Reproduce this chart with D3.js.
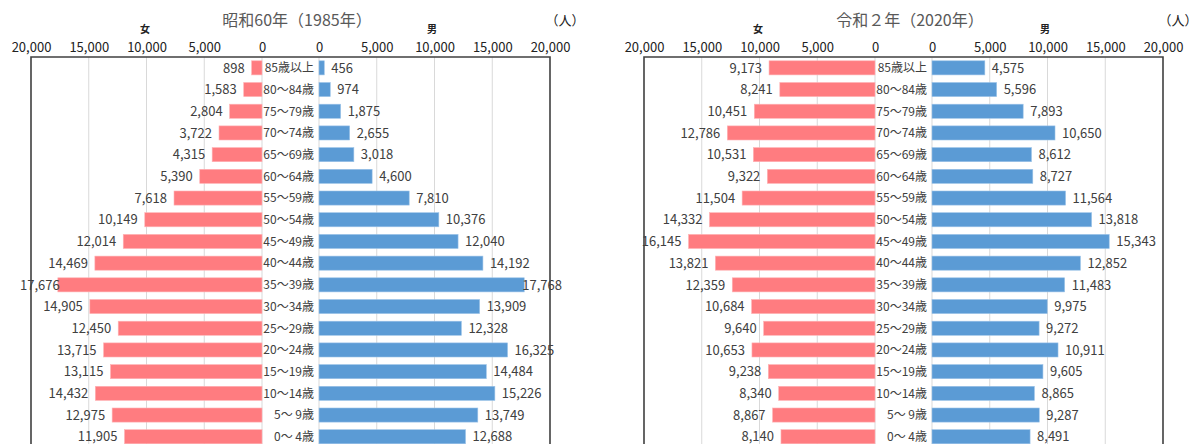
<!DOCTYPE html>
<html>
<head>
<meta charset="utf-8">
<script src="https://cdn.jsdelivr.net/npm/d3@7.9.0/dist/d3.min.js"></script>
<style>
  html, body { margin: 0; padding: 0; background: #fff; }
  svg { display: block; font-family: "Noto Sans CJK JP", "Noto Sans", sans-serif; }
</style>
</head>
<body>
<svg id="chart" width="1200" height="444"></svg>
<script>
const ages = ['85歳以上', '80～84歳', '75～79歳', '70～74歳', '65～69歳', '60～64歳', '55～59歳',
    '50～54歳', '45～49歳', '40～44歳', '35～39歳', '30～34歳', '25～29歳', '20～24歳',
    '15～19歳', '10～14歳', '5～ 9歳', '0～ 4歳'];
const ticks = [0, 5000, 10000, 15000, 20000];

const female1985 = [898, 1583, 2804, 3722, 4315, 5390, 7618, 10149, 12014, 14469, 17676, 14905,
    12450, 13715, 13115, 14432, 12975, 11905];
const male1985 = [456, 974, 1875, 2655, 3018, 4600, 7810, 10376, 12040, 14192, 17768, 13909,
    12328, 16325, 14484, 15226, 13749, 12688];
const female2020 = [9173, 8241, 10451, 12786, 10531, 9322, 11504, 14332, 16145, 13821, 12359,
    10684, 9640, 10653, 9238, 8340, 8867, 8140];
const male2020 = [4575, 5596, 7893, 10650, 8612, 8727, 11564, 13818, 15343, 12852, 11483, 9975,
    9272, 10911, 9605, 8865, 9287, 8491];

const svg = d3.select('#chart');
const fmt = d3.format(',');
const textColor = '#404040';

const y = d3.scaleBand()
    .domain(ages)
    .range([57, 57 + ages.length * 21.7])
    .paddingInner(0.35)
    .paddingOuter(0.175);

function drawPanel(dx, title, female, male) {
    const g = svg.append('g').attr('transform', `translate(${dx},0)`);
    const xf = d3.scaleLinear().domain([0, 20000]).range([262, 31]);
    const xm = d3.scaleLinear().domain([0, 20000]).range([319, 550]);
    const areaLeft = 20;
    const areaRight = 562;

    // grid
    [xf, xm].forEach((sc) => {
        g.selectAll(null)
            .data(ticks.slice(0, 4))
            .join('line')
            .attr('x1', (d) => sc(d))
            .attr('x2', (d) => sc(d))
            .attr('y1', 57)
            .attr('y2', 450)
            .attr('stroke', '#d9d9d9')
            .attr('stroke-width', 1);
    });

    // bars
    g.selectAll('.fbar')
        .data(female)
        .join('rect')
        .attr('class', 'fbar')
        .attr('x', (d) => xf(d))
        .attr('y', (d, i) => y(ages[i]))
        .attr('width', (d) => xf(0) - xf(d))
        .attr('height', y.bandwidth())
        .attr('fill', '#ff7c80')
        .attr('stroke', '#ffb3b5')
        .attr('stroke-width', 0.6);

    g.selectAll('.mbar')
        .data(male)
        .join('rect')
        .attr('class', 'mbar')
        .attr('x', xm(0))
        .attr('y', (d, i) => y(ages[i]))
        .attr('width', (d) => xm(d) - xm(0))
        .attr('height', y.bandwidth())
        .attr('fill', '#5b9bd5')
        .attr('stroke', '#9cc3e8')
        .attr('stroke-width', 0.6);

    // value labels
    g.selectAll('.flab')
        .data(female)
        .join('text')
        .attr('class', 'flab')
        .attr('y', (d, i) => y(ages[i]) + y.bandwidth() / 2)
        .attr('dy', '0.36em')
        .attr('text-anchor', 'end')
        .attr('font-size', 13)
        .attr('fill', textColor)
        .text((d) => fmt(d))
        .attr('x', function (d) {
            const w = this.getComputedTextLength();
            return Math.max(xf(d) - 7, areaLeft + w);
        });

    g.selectAll('.mlab')
        .data(male)
        .join('text')
        .attr('class', 'mlab')
        .attr('y', (d, i) => y(ages[i]) + y.bandwidth() / 2)
        .attr('dy', '0.36em')
        .attr('font-size', 13)
        .attr('fill', textColor)
        .text((d) => fmt(d))
        .attr('x', function (d) {
            const w = this.getComputedTextLength();
            return Math.min(xm(d) + 7, areaRight - w);
        });

    // age labels
    g.selectAll('.age')
        .data(ages)
        .join('text')
        .attr('class', 'age')
        .attr('x', 314)
        .attr('y', (d) => y(d) + y.bandwidth() / 2)
        .attr('dy', '0.36em')
        .attr('text-anchor', 'end')
        .attr('font-size', 12)
        .attr('fill', textColor)
        .style('white-space', 'pre')
        .text((d) => d);

    // axes on top
    [xf, xm].forEach((sc) => {
        const ax = g.append('g')
            .attr('transform', 'translate(0,40)')
            .call(d3.axisTop(sc).tickValues(ticks).tickSize(0).tickPadding(0).tickFormat(fmt));
        ax.select('.domain').remove();
        ax.selectAll('text')
            .attr('font-size', 13)
            .attr('font-family', '"Noto Sans CJK JP", sans-serif')
            .attr('fill', '#222')
            .attr('dy', '0.95em');
    });

    // frame
    g.append('path')
        .attr('d', `M31,460V57H550V460`)
        .attr('fill', 'none')
        .attr('stroke', '#404040')
        .attr('stroke-width', 1.6);

    g.append('text')
        .attr('x', 297)
        .attr('y', 26)
        .attr('text-anchor', 'middle')
        .attr('font-size', 16)
        .attr('fill', '#595959')
        .text(title);

    g.append('text')
        .attr('x', 145)
        .attr('y', 33)
        .attr('text-anchor', 'middle')
        .attr('font-size', 10)
        .attr('font-weight', 'bold')
        .attr('fill', '#222')
        .text('女');

    g.append('text')
        .attr('x', 432)
        .attr('y', 33)
        .attr('text-anchor', 'middle')
        .attr('font-size', 10)
        .attr('font-weight', 'bold')
        .attr('fill', '#222')
        .text('男');

    g.append('text')
        .attr('x', 565)
        .attr('y', 25)
        .attr('text-anchor', 'middle')
        .attr('font-size', 13)
        .attr('fill', '#222')
        .text('（人）');
}

drawPanel(0, '昭和60年（1985年）', female1985, male1985);
drawPanel(613, '令和２年（2020年）', female2020, male2020);
</script>
</body>
</html>
